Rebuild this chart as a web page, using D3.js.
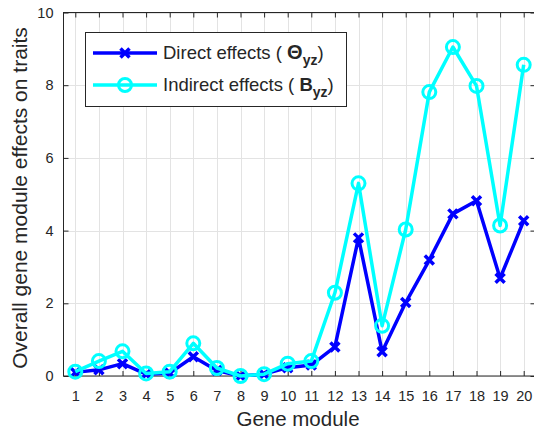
<!DOCTYPE html>
<html lang="en">
<head>
<meta charset="UTF-8">
<title>Gene module effects</title>
<script src="https://d3js.org/d3.v7.min.js"></script>
<style>
    body { margin: 0; background: #fff; }
    text { font-family: "Liberation Sans", Arial, sans-serif; fill: #262626; }
</style>
</head>
<body>
<script>
    // values
    var modules = d3.range(1, 21);
    var direct = [0.1, 0.17, 0.34, 0.05, 0.08, 0.53, 0.15, 0.0, 0.05, 0.23, 0.3, 0.8, 3.8, 0.67, 2.02, 3.19, 4.46, 4.82, 2.69, 4.27];
    var indirect = [0.12, 0.41, 0.68, 0.07, 0.12, 0.9, 0.22, 0.0, 0.05, 0.34, 0.41, 2.29, 5.3, 1.38, 4.03, 7.81, 9.05, 7.98, 4.14, 8.56];
    var yTicks = [0, 2, 4, 6, 8, 10];

    var W = 534, H = 435;
    var pl = 63.5, pr = 535.5, pt = 12.5, pb = 376;
    var blue = "#0000ff", cyan = "#00ffff";

    var svg = d3.select("body").append("svg")
        .attr("width", W).attr("height", H);

    var x = d3.scaleLinear().domain([0.5, 20.5]).range([pl, pr]);
    var y = d3.scaleLinear().domain([0, 10]).range([pb, pt]);

    // grid
    var grid = svg.append("g").attr("stroke", "#e3e3e3").attr("stroke-width", 1);
    grid.selectAll(".gx").data(modules).enter().append("line")
        .attr("x1", function(d) { return Math.round(x(d)) + 0.5; })
        .attr("x2", function(d) { return Math.round(x(d)) + 0.5; })
        .attr("y1", pt).attr("y2", pb);
    grid.selectAll(".gy").data(yTicks).enter().append("line")
        .attr("y1", function(d) { return Math.round(y(d)) + 0.5; })
        .attr("y2", function(d) { return Math.round(y(d)) + 0.5; })
        .attr("x1", pl).attr("x2", pr);

    // axes (ticks inward, box)
    svg.append("g").attr("transform", "translate(0," + pb + ")")
        .call(d3.axisBottom(x).tickValues(modules).tickSize(-5).tickPadding(15).tickFormat(d3.format("d")))
        .call(function(g) { g.select(".domain").remove(); });
    svg.append("g").attr("transform", "translate(0," + pt + ")")
        .call(d3.axisTop(x).tickValues(modules).tickSize(-5).tickFormat(""))
        .call(function(g) { g.select(".domain").remove(); });
    svg.append("g").attr("transform", "translate(" + pl + ",0)")
        .call(d3.axisLeft(y).tickValues(yTicks).tickSize(-5).tickPadding(10))
        .call(function(g) { g.select(".domain").remove(); });
    svg.append("g").attr("transform", "translate(" + pr + ",0)")
        .call(d3.axisRight(y).tickValues(yTicks).tickSize(-5).tickFormat(""))
        .call(function(g) { g.select(".domain").remove(); });
    svg.selectAll(".tick line").attr("stroke", "#262626");
    svg.selectAll(".tick text").attr("font-size", 14.5).attr("fill", "#262626")
        .style("font-family", "Liberation Sans, Arial, sans-serif");

    svg.append("rect").attr("x", pl).attr("y", pt)
        .attr("width", pr - pl).attr("height", pb - pt)
        .attr("fill", "none").attr("stroke", "#262626").attr("stroke-width", 1);

    // labels
    svg.append("text").attr("x", 298).attr("y", 426)
        .attr("text-anchor", "middle").attr("font-size", 20.5).text("Gene module");
    svg.append("text").attr("transform", "translate(27,198) rotate(-90)")
        .attr("text-anchor", "middle").attr("font-size", 21).text("Overall gene module effects on traits");

    var line = function(vals) {
        return d3.line().x(function(d, i) { return x(modules[i]); }).y(function(d) { return y(d); })(vals);
    };

    function cross(g, cx, cy, s) {
        g.append("path").attr("d", "M" + (cx - s) + "," + (cy - s) + "L" + (cx + s) + "," + (cy + s) +
            "M" + (cx - s) + "," + (cy + s) + "L" + (cx + s) + "," + (cy - s))
            .attr("stroke", blue).attr("stroke-width", 3.5).attr("fill", "none");
    }

    // direct
    var gd = svg.append("g");
    gd.append("path").attr("d", line(direct)).attr("fill", "none")
        .attr("stroke", blue).attr("stroke-width", 3.5).attr("stroke-linejoin", "round");
    direct.forEach(function(v, i) { cross(gd, x(modules[i]), y(v), 4.5); });

    // indirect
    var gi = svg.append("g");
    gi.append("path").attr("d", line(indirect)).attr("fill", "none")
        .attr("stroke", cyan).attr("stroke-width", 3.5).attr("stroke-linejoin", "round");
    gi.selectAll("circle").data(indirect).enter().append("circle")
        .attr("cx", function(d, i) { return x(modules[i]); })
        .attr("cy", function(d) { return y(d); })
        .attr("r", 6.5).attr("fill", "none").attr("stroke", cyan).attr("stroke-width", 3);

    // legend
    var lg = svg.append("g");
    lg.append("rect").attr("x", 85.5).attr("y", 32.5).attr("width", 261).attr("height", 74)
        .attr("fill", "#fff").attr("stroke", "#262626").attr("stroke-width", 1);
    lg.append("line").attr("x1", 93).attr("x2", 157).attr("y1", 53).attr("y2", 53)
        .attr("stroke", blue).attr("stroke-width", 3.5);
    cross(lg, 125, 53, 4.5);
    lg.append("line").attr("x1", 93).attr("x2", 157).attr("y1", 85).attr("y2", 85)
        .attr("stroke", cyan).attr("stroke-width", 3.5);
    lg.append("circle").attr("cx", 125).attr("cy", 85).attr("r", 6.5)
        .attr("fill", "none").attr("stroke", cyan).attr("stroke-width", 3);

    var t1 = lg.append("text").attr("x", 163).attr("y", 59).attr("font-size", 18.5).attr("fill", "#000");
    t1.append("tspan").text("Direct effects ( ");
    t1.append("tspan").attr("font-weight", "bold").attr("font-size", 20).text("\u0398");
    t1.append("tspan").attr("font-weight", "bold").attr("font-size", 14).attr("dy", 6).text("yz");
    t1.append("tspan").attr("dy", -6).text(")");

    var t2 = lg.append("text").attr("x", 163).attr("y", 91).attr("font-size", 18.5).attr("fill", "#000");
    t2.append("tspan").text("Indirect effects ( ");
    t2.append("tspan").attr("font-weight", "bold").text("B");
    t2.append("tspan").attr("font-weight", "bold").attr("font-size", 14).attr("dy", 6).text("yz");
    t2.append("tspan").attr("dy", -6).text(")");
</script>
</body>
</html>
